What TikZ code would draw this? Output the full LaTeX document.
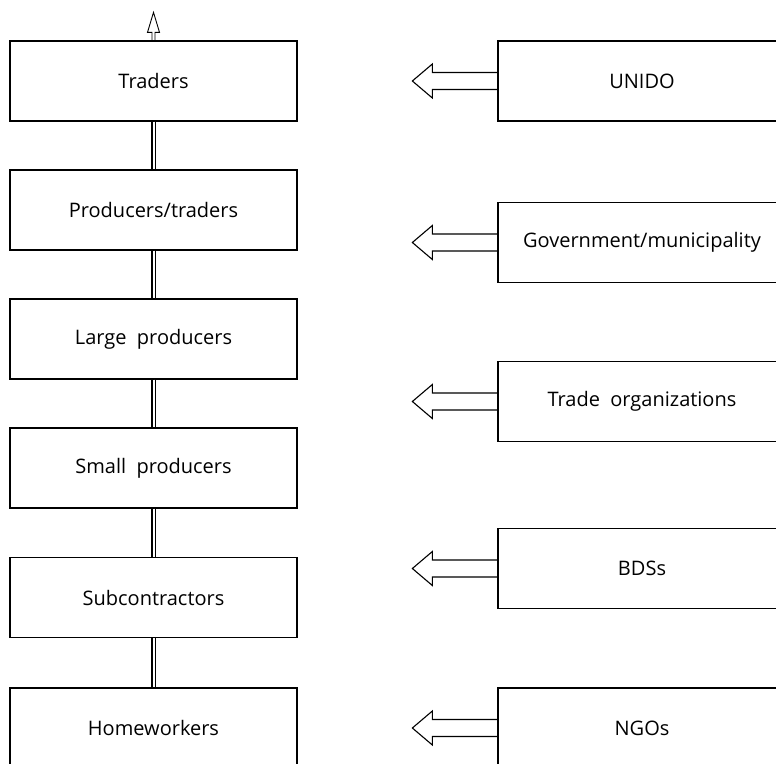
\documentclass[tikz,border=0pt]{standalone}
\usepackage{fontspec}
\setmainfont{Open Sans}
\usetikzlibrary{arrows.meta}
\tikzset{
  chainbox/.style={draw,line width=1.3pt,minimum width=287pt,minimum height=80pt,
    inner sep=0pt,font=\fontsize{20}{24}\selectfont},
  chainlink/.style={draw,line width=1.2pt,double,double distance=2pt},
  blockarrow/.style={draw,line width=1.1pt,line join=miter}}
% left column: name, centre y, text
\newcommand{\cbox}[3]{\node[chainbox] (#1) at (153.5,-#2) {#3};}
% right column: name, centre y, text
\newcommand{\abox}[3]{\node[chainbox,minimum width=288pt] (#1) at (642,-#2) {#3};}
% hollow arrow out of the west side of a right box
\newcommand{\harrow}[1]{%
  \draw[blockarrow] ([yshift=8.5pt]#1.west) -- ++(-65,0) -- ++(0,8.5)
    -- ++(-20,-17) -- ++(20,-17) -- ++(0,8.5) -- ([yshift=-8.5pt]#1.west);}

\begin{document}
\begin{tikzpicture}[x=1pt,y=1pt]
  \path[use as bounding box] (0,0) rectangle (776,-763);
  \clip (0,0) rectangle (776,-763);
  \cbox{traders}{81}{Traders}
  \cbox{prodtr}{210}{Producers/traders}
  \cbox{largep}{339}{Large\ \ producers}
  \cbox{smallp}{468}{Small\ \ producers}
  \cbox{subcon}{597.5}{Subcontractors}
  \cbox{homew}{728}{Homeworkers}
  \foreach \a/\b in {traders/prodtr,prodtr/largep,largep/smallp,smallp/subcon,subcon/homew}
    {\draw[chainlink] (\a) -- (\b);}
  % open arrow on top
  \draw[blockarrow,line width=0.9pt] ([xshift=-1.5pt]traders.north) -- ++(0,8) -- ++(-4.5,0)
    -- ++(6,20) -- ++(6,-20) -- ++(-4.5,0) -- ([xshift=1.5pt]traders.north);
  \abox{unido}{81}{UNIDO}
  \abox{govmun}{242.5}{Government/municipality}
  \abox{tradeorg}{401.5}{Trade\ \ organizations}
  \abox{bdss}{568.5}{BDSs}
  \abox{ngos}{728}{NGOs}
  \foreach \n in {unido,govmun,tradeorg,bdss,ngos}
    {\harrow{\n}}
\end{tikzpicture}
\end{document}
